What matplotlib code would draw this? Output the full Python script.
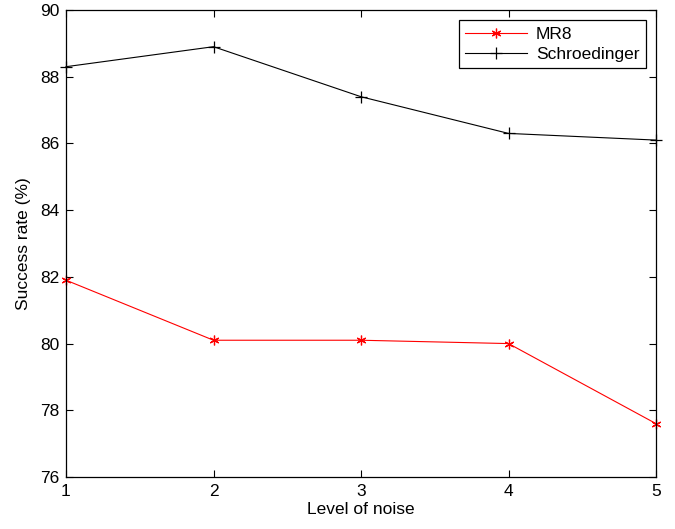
import matplotlib
matplotlib.use("Agg")
import matplotlib.pyplot as plt

plt.rcParams['font.family'] = ['Liberation Sans', 'DejaVu Sans']

noise_levels = [1, 2, 3, 4, 5]
mr8 = [81.9, 80.1, 80.1, 80.0, 77.6]
schroedinger = [88.3, 88.9, 87.4, 86.3, 86.1]
y_ticks = [76, 78, 80, 82, 84, 86, 88, 90]

fig = plt.figure(figsize=(6.75, 5.29), dpi=100)
ax = fig.add_axes([66/675, 1-477/529, (656-66)/675, (477-10)/529])

ax.plot(noise_levels, mr8, color='red', marker=(6, 2, 0), markersize=7, linewidth=0.8,
        markeredgewidth=0.9, label='MR8', clip_on=False)
ax.plot(noise_levels, schroedinger, color='black', marker='+', markersize=8, linewidth=0.8,
        markeredgewidth=0.9, label='Schroedinger', clip_on=False)

ax.set_xlim(1, 5)
ax.set_ylim(76, 90)
ax.set_xticks(noise_levels)
ax.set_yticks(y_ticks)
ax.tick_params(direction='in', top=True, right=True, labelsize=12.5, length=5, width=0.8, pad=5)
for s in ax.spines.values():
    s.set_linewidth(0.9)
ax.set_xlabel('Level of noise', fontsize=12.5, labelpad=2)
ax.set_ylabel('Success rate (%)', fontsize=12.5, labelpad=6)

leg = ax.legend(loc='upper right', fontsize=12.5, fancybox=False, framealpha=1,
                edgecolor='black', borderaxespad=0.6, handlelength=3.6,
                labelspacing=0.3, borderpad=0.35, handletextpad=0.5)
leg.get_frame().set_linewidth(0.9)

fig.savefig('out.png', dpi=100)
